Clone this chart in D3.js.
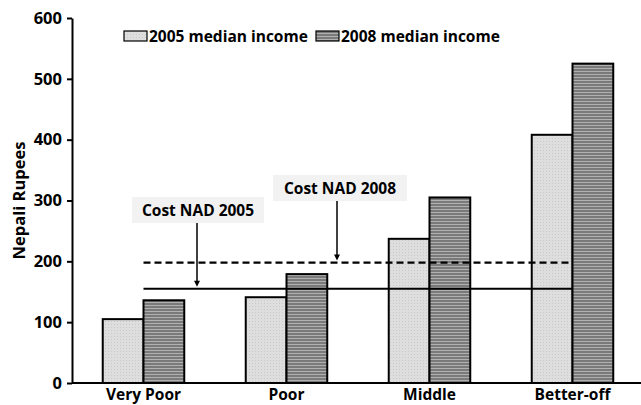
<!DOCTYPE html>
<meta charset="utf-8">
<style>
body { margin: 0; background: #fff; }
.axis path, .axis line { stroke: #000; stroke-width: 2px; }
.axis text { font-family: "Open Sans", sans-serif; font-weight: 700; fill: #000; }
.lbl { font-family: "Open Sans", sans-serif; font-weight: 700; fill: #000; }
</style>
<body>
<div id="plotHere"></div>
<script src="https://cdn.jsdelivr.net/npm/d3@7"></script>
<script>
// ---------------- data ----------------
const categories = ["Very Poor", "Poor", "Middle", "Better-off"];
const income2005 = [105, 141, 237, 408];
const income2008 = [136, 179, 305, 525];
const seriesNames = ["2005 median income", "2008 median income"];
const costNAD2005 = 155;
const costNAD2008 = 198;
const yTicks = [0, 100, 200, 300, 400, 500, 600];
const ylabel = "Nepali Rupees";

// ---------------- svg ----------------
const W = 641, H = 405;
const margin = {top: 18, right: 0, bottom: 22, left: 72};
const width = W - margin.left - margin.right,
      height = H - margin.top - margin.bottom;

const svg = d3.select("#plotHere").append("svg")
    .attr("width", W).attr("height", H);

const defs = svg.append("defs");
// light dotted fill for 2005
const p1 = defs.append("pattern").attr("id", "dots")
    .attr("width", 3).attr("height", 3).attr("patternUnits", "userSpaceOnUse");
p1.append("rect").attr("width", 3).attr("height", 3).attr("fill", "#dedede");
p1.append("rect").attr("width", 1).attr("height", 1).attr("fill", "#c8c8c8");
// horizontal stripes for 2008
const p2 = defs.append("pattern").attr("id", "stripes")
    .attr("width", 4).attr("height", 3).attr("patternUnits", "userSpaceOnUse");
p2.append("rect").attr("width", 4).attr("height", 3).attr("fill", "#7a7a7a");
p2.append("rect").attr("y", 2).attr("width", 4).attr("height", 1).attr("fill", "#b0b0b0");

const g = svg.append("g")
    .attr("transform", "translate(" + margin.left + "," + margin.top + ")");

// ---------------- scales ----------------
const x = d3.scaleBand().domain(categories)
    .range([0, 143 * categories.length])
    .paddingInner(0.43).paddingOuter(0.215);
const xs = d3.scaleBand().domain([0, 1]).range([0, x.bandwidth()]);
const y = d3.scaleLinear().domain([0, 600]).range([height, 0]);

// ---------------- bars ----------------
const fills = ["url(#dots)", "url(#stripes)"];
[income2005, income2008].forEach(function(vals, s) {
  g.selectAll(".bar" + s)
    .data(vals)
    .enter().append("rect")
      .attr("x", (d, i) => x(categories[i]) + xs(s))
      .attr("y", d => y(d))
      .attr("width", xs.bandwidth())
      .attr("height", d => height - y(d))
      .attr("fill", fills[s])
      .attr("stroke", "#000")
      .attr("stroke-width", 2);
});

// ---------------- cost lines ----------------
const xc = c => x(c) + x.bandwidth() / 2;
const x0 = xc(categories[0]), x1 = xc(categories[categories.length - 1]);
g.append("line")
    .attr("x1", x0).attr("x2", x1)
    .attr("y1", y(costNAD2008)).attr("y2", y(costNAD2008))
    .attr("stroke", "#000").attr("stroke-width", 2.2)
    .attr("stroke-dasharray", "7,4");
g.append("line")
    .attr("x1", x0).attr("x2", x1)
    .attr("y1", y(costNAD2005)).attr("y2", y(costNAD2005))
    .attr("stroke", "#000").attr("stroke-width", 2);

// ---------------- axes ----------------
g.append("g").attr("class", "axis")
    .attr("transform", "translate(0," + height + ")")
    .call(d3.axisBottom(x).tickSize(0).tickPadding(6))
    .call(a => a.select(".domain").attr("d", "M0,0H" + (W - margin.left)))
    .selectAll("text").style("font-size", "15.5px");

g.append("g").attr("class", "axis")
    .call(d3.axisLeft(y).tickValues(yTicks).tickSize(5).tickSizeOuter(0).tickPadding(5))
    .selectAll("text").style("font-size", "16.5px");

g.append("text").attr("class", "lbl")
    .attr("transform", "rotate(-90)")
    .attr("x", -(y(300)))
    .attr("y", -47)
    .attr("text-anchor", "middle")
    .style("font-size", "16.5px")
    .text(ylabel);

// ---------------- annotations ----------------
const notes = [
  {label: "Cost NAD 2005", value: costNAD2005, bx: 60, by: 179, bw: 132, ax: 125},
  {label: "Cost NAD 2008", value: costNAD2008, bx: 201, by: 157, bw: 134, ax: 265}
];
notes.forEach(function(n) {
  g.append("rect").attr("x", n.bx).attr("y", n.by)
    .attr("width", n.bw).attr("height", 26).attr("fill", "#f2f2f2");
  g.append("text").attr("class", "lbl")
    .attr("x", n.bx + n.bw / 2).attr("y", n.by + 19)
    .attr("text-anchor", "middle")
    .style("font-size", "15.5px")
    .text(n.label);
  g.append("line").attr("x1", n.ax).attr("x2", n.ax)
    .attr("y1", n.by + 26).attr("y2", y(n.value) - 6)
    .attr("stroke", "#000").attr("stroke-width", 1.5);
  g.append("path")
    .attr("d", "M" + (n.ax - 3) + "," + (y(n.value) - 8) + "L" + (n.ax + 3) + "," + (y(n.value) - 8) + "L" + n.ax + "," + (y(n.value) - 2) + "Z")
    .attr("fill", "#000");
});

// ---------------- legend ----------------
const legend = svg.append("g").attr("transform", "translate(124,31)");
const legX = [0, 192];
seriesNames.forEach(function(name, i) {
  legend.append("rect").attr("x", legX[i]).attr("y", 0)
    .attr("width", 23).attr("height", 10)
    .attr("fill", fills[i]).attr("stroke", "#000").attr("stroke-width", 1.2);
  legend.append("text").attr("class", "lbl")
    .attr("x", legX[i] + 25).attr("y", 11)
    .style("font-size", "15.5px")
    .text(name);
});
</script>
</body>
